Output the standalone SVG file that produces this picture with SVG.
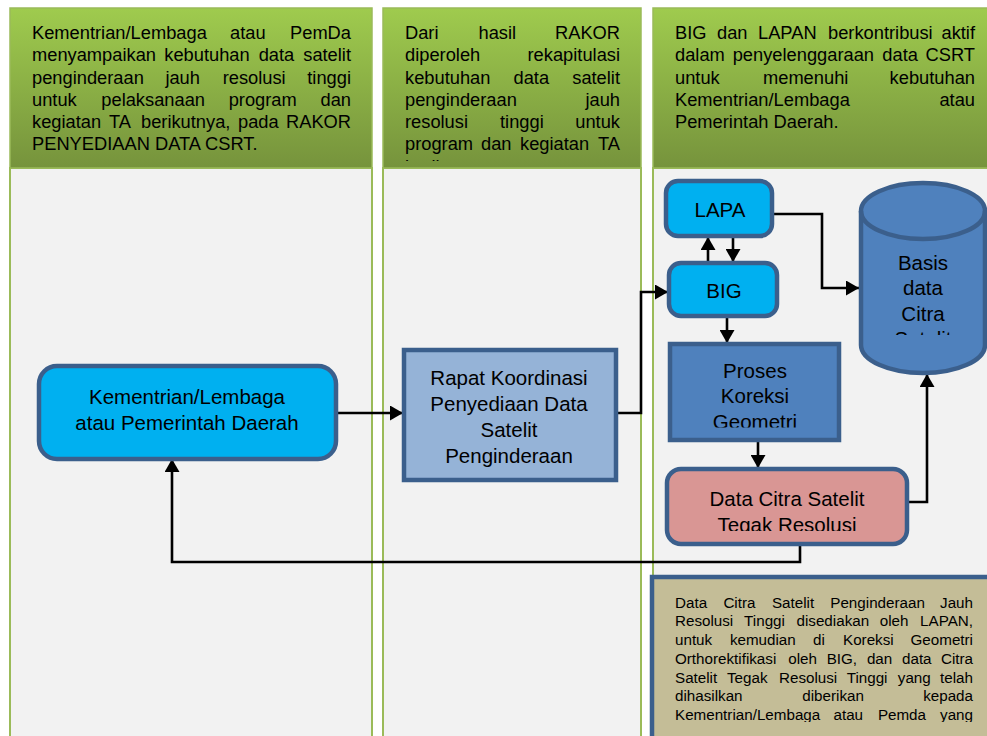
<svg xmlns="http://www.w3.org/2000/svg" width="987" height="736" viewBox="0 0 987 736">
<style>
text{font-family:"Liberation Sans",Arial,sans-serif;fill:#000}
.h{font-size:18.3px}
.n{font-size:15.2px}
.lb{font-size:20.5px;text-anchor:middle}
.e{text-anchor:end}
.hdr{fill:url(#g);stroke:#9bbb59;stroke-width:1.5}
.body{fill:#f2f2f2;stroke:#9bbb59;stroke-width:2}
.box{stroke:#3b5f8c;stroke-width:4.5}
.cn{fill:none;stroke:#000;stroke-width:2.6;marker-end:url(#ah)}
</style>
<defs>
<linearGradient id="g" x1="0" y1="0" x2="0" y2="1">
<stop offset="0" stop-color="#9fcb4e"/>
<stop offset="1" stop-color="#76933c"/>
</linearGradient>
<marker id="ah" markerUnits="userSpaceOnUse" markerWidth="14" markerHeight="15" refX="13" refY="7.5" orient="auto">
<path d="M0,0 L13,7.5 L0,15 Z" fill="#000"/>
</marker>
<clipPath id="c2"><rect x="383" y="8" width="258" height="153"/></clipPath>
<clipPath id="cBasis"><rect x="861" y="230" width="124" height="105"/></clipPath>
<clipPath id="cPro"><rect x="670" y="344" width="169" height="83.5"/></clipPath>
<clipPath id="cDat"><rect x="667" y="469" width="240" height="62"/></clipPath>
<clipPath id="cNote"><rect x="652" y="577" width="345" height="145"/></clipPath>
</defs>
<rect width="987" height="736" fill="#fff"/>

<g id="lane1">
<rect class="body" x="10" y="168" width="362" height="580"/>
<rect class="hdr" x="10" y="8" width="362" height="160"/>
<g class="h">
<text x="32" y="39">Kementrian/Lembaga</text><text x="230" y="39">atau</text><text class="e" x="351" y="39">PemDa</text>
<text x="32" y="61">menyampaikan</text><text x="164.3" y="61">kebutuhan</text><text x="258.7" y="61">data</text><text class="e" x="351" y="61">satelit</text>
<text x="32" y="83.5">penginderaan</text><text x="165.4" y="83.5">jauh</text><text x="222.7" y="83.5">resolusi</text><text class="e" x="351" y="83.5">tinggi</text>
<text x="32" y="105.5">untuk</text><text x="101.3" y="105.5">pelaksanaan</text><text x="228.7" y="105.5">program</text><text class="e" x="351" y="105.5">dan</text>
<text x="32" y="128">kegiatan</text><text x="109" y="128">TA</text><text x="141" y="128">berikutnya,</text><text x="238" y="128">pada</text><text class="e" x="351" y="128">RAKOR</text>
<text x="32" y="150">PENYEDIAAN DATA CSRT.</text>
</g>
</g>

<g id="lane2">
<rect class="body" x="383" y="168" width="258" height="580"/>
<rect class="hdr" x="383" y="8" width="258" height="160"/>
<g class="h" clip-path="url(#c2)">
<text x="405" y="39">Dari</text><text x="478.5" y="39">hasil</text><text class="e" x="620" y="39">RAKOR</text>
<text x="405" y="61">diperoleh</text><text class="e" x="620" y="61">rekapitulasi</text>
<text x="405" y="83.5">kebutuhan</text><text x="513.5" y="83.5">data</text><text class="e" x="620" y="83.5">satelit</text>
<text x="405" y="105.5">penginderaan</text><text class="e" x="620" y="105.5">jauh</text>
<text x="405" y="128">resolusi</text><text x="500" y="128">tinggi</text><text class="e" x="620" y="128">untuk</text>
<text x="405" y="150">program</text><text x="481" y="150">dan</text><text x="520" y="150">kegiatan</text><text class="e" x="620" y="150">TA</text>
<text x="405" y="172.5">berikutnya.</text>
</g>
</g>

<g id="lane3">
<rect class="body" x="653" y="168" width="340" height="580"/>
<rect class="hdr" x="653" y="8" width="340" height="160"/>
<g class="h">
<text x="675" y="39">BIG</text><text x="717" y="39">dan</text><text x="758" y="39">LAPAN</text><text x="828" y="39">berkontribusi</text><text class="e" x="975" y="39">aktif</text>
<text x="675" y="61">dalam</text><text x="732.7" y="61">penyelenggaraan</text><text x="882.3" y="61">data</text><text class="e" x="975" y="61">CSRT</text>
<text x="675" y="83.5">untuk</text><text x="763" y="83.5">memenuhi</text><text class="e" x="975" y="83.5">kebutuhan</text>
<text x="675" y="105.5">Kementrian/Lembaga</text><text class="e" x="975" y="105.5">atau</text>
<text x="675" y="128">Pemerintah Daerah.</text>
</g>
</g>

<g id="connectors">
<path class="cn" d="M337,413 H403"/>
<path class="cn" d="M617,413 H641 V292 H668"/>
<path class="cn" d="M773,214 H822 V288 H859"/>
<path class="cn" d="M708,262 V237"/>
<path class="cn" d="M733,237 V262"/>
<path class="cn" d="M727,317 V343"/>
<path class="cn" d="M758,441 V468"/>
<path class="cn" d="M908,502 H927 V374"/>
<path class="cn" d="M800,545 V562 H172 V459"/>
</g>

<g id="node-kl">
<rect class="box" x="39" y="366" width="297" height="93" rx="18" fill="#00b0f0"/>
<text class="lb" x="187" y="404">Kementrian/Lembaga</text>
<text class="lb" x="187" y="430">atau Pemerintah Daerah</text>
</g>

<g id="node-rapat">
<rect class="box" x="404" y="350" width="212" height="130" fill="#95b3d7" stroke-width="5"/>
<text class="lb" x="509" y="385">Rapat Koordinasi</text>
<text class="lb" x="509" y="411">Penyediaan Data</text>
<text class="lb" x="509" y="437">Satelit</text>
<text class="lb" x="509" y="463">Penginderaan</text>
</g>

<g id="node-lapa">
<rect class="box" x="666" y="181" width="106" height="55" rx="12" fill="#00b0f0"/>
<text class="lb" x="720" y="217">LAPA</text>
</g>

<g id="node-big">
<rect class="box" x="669" y="263" width="108" height="53" rx="12" fill="#00b0f0"/>
<text class="lb" x="724" y="298">BIG</text>
</g>

<g id="node-basis">
<path class="box" d="M861,211 A62,28 0 0 1 985,211 L985,345 A62,28 0 0 1 861,345 Z" fill="#4f81bd"/>
<path class="box" d="M861,211 A62,28 0 0 0 985,211" fill="none"/>
<g clip-path="url(#cBasis)">
<text class="lb" x="923" y="269.5">Basis</text>
<text class="lb" x="923" y="295">data</text>
<text class="lb" x="923" y="320.5">Citra</text>
<text class="lb" x="923" y="346">Satelit</text>
</g>
</g>

<g id="node-proses">
<rect class="box" x="670" y="344" width="169" height="96" fill="#4f81bd" stroke-width="5"/>
<g clip-path="url(#cPro)">
<text class="lb" x="755" y="378">Proses</text>
<text class="lb" x="755" y="403.3">Koreksi</text>
<text class="lb" x="755" y="428.6">Geometri</text>
</g>
</g>

<g id="node-datacitra">
<rect class="box" x="667" y="469" width="240" height="75" rx="14" fill="#d99694"/>
<g clip-path="url(#cDat)">
<text class="lb" x="787" y="506">Data Citra Satelit</text>
<text class="lb" x="787" y="532">Tegak Resolusi</text>
</g>
</g>

<g id="node-note">
<rect class="box" x="652" y="577" width="345" height="170" fill="#c4bd97" stroke-width="5"/>
<g class="n" clip-path="url(#cNote)">
<text x="675" y="607.5">Data</text><text x="723.4" y="607.5">Citra</text><text x="771.9" y="607.5">Satelit</text><text x="830.3" y="607.5">Penginderaan</text><text class="e" x="973" y="607.5">Jauh</text>
<text x="675" y="626.3">Resolusi</text><text x="744.1" y="626.3">Tinggi</text><text x="796.5" y="626.3">disediakan</text><text x="879.8" y="626.3">oleh</text><text class="e" x="973" y="626.3">LAPAN,</text>
<text x="675" y="645">untuk</text><text x="729.9" y="645">kemudian</text><text x="813.1" y="645">di</text><text x="843" y="645">Koreksi</text><text class="e" x="973" y="645">Geometri</text>
<text x="675" y="663.8">Orthorektifikasi</text><text x="788.2" y="663.8">oleh</text><text x="826.7" y="663.8">BIG,</text><text x="866.9" y="663.8">dan</text><text x="902" y="663.8">data</text><text class="e" x="973" y="663.8">Citra</text>
<text x="675" y="682.6">Satelit</text><text x="727" y="682.6">Tegak</text><text x="779" y="682.6">Resolusi</text><text x="846.7" y="682.6">Tinggi</text><text x="897.8" y="682.6">yang</text><text class="e" x="973" y="682.6">telah</text>
<text x="675" y="701.4">dihasilkan</text><text x="802.3" y="701.4">diberikan</text><text class="e" x="973" y="701.4">kepada</text>
<text x="675" y="720.2">Kementrian/Lembaga</text><text x="833.5" y="720.2">atau</text><text x="877.9" y="720.2">Pemda</text><text class="e" x="973" y="720.2">yang</text>
</g>
</g>
</svg>
